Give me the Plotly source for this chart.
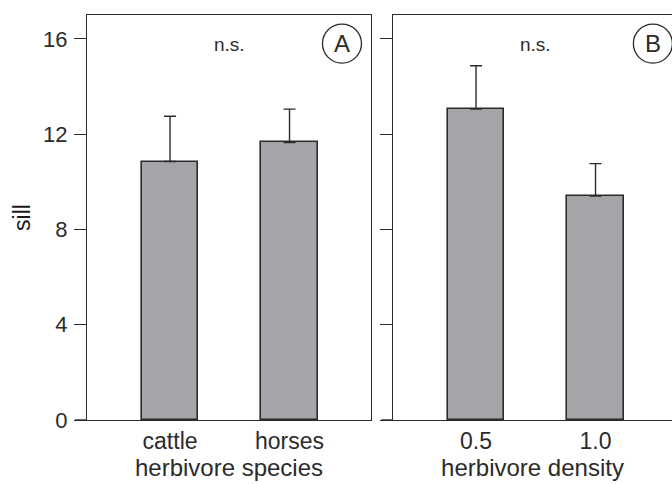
import plotly.graph_objects as go

# ---- data ----
species = ["cattle", "horses"]
species_sill = [10.85, 11.65]
species_se = [1.9, 1.4]

density = ["0.5", "1.0"]
density_sill = [13.05, 9.4]
density_se = [1.82, 1.36]

y_ticks = [0, 4, 8, 12, 16]

FONT = "Liberation Sans, Arial, Helvetica, sans-serif"
INK = "#2b2b2b"
BAR = "#a5a5a9"

fig = go.Figure()

def bar_trace(cats, vals, errs, xa, ya):
    return go.Bar(
        x=list(range(len(cats))), y=vals, width=0.47,
        marker=dict(color=BAR, line=dict(color=INK, width=1.6)),
        error_y=dict(type="data", array=errs, arrayminus=[0] * len(errs),
                     symmetric=False, color=INK, thickness=1.4, width=6),
        xaxis=xa, yaxis=ya, showlegend=False, hoverinfo="skip",
    )

fig.add_trace(bar_trace(species, species_sill, species_se, "x", "y"))
fig.add_trace(bar_trace(density, density_sill, density_se, "x2", "y2"))

axis_common = dict(showline=True, linecolor=INK, linewidth=1.4, showgrid=False,
                   zeroline=False, tickfont=dict(family=FONT, size=23, color=INK))

fig.update_layout(
    width=672, height=484,
    margin=dict(l=0, r=0, t=15, b=64),
    paper_bgcolor="white", plot_bgcolor="white",
    font=dict(family=FONT, color=INK),
    bargap=0,
    xaxis=dict(axis_common, domain=[87 / 672, 371 / 672], range=[-0.695, 1.682],
               mirror=True, ticks="", tickvals=[0, 1], ticktext=species,
               title=dict(text="herbivore species", font=dict(size=24, family=FONT, color=INK), standoff=1),
               automargin=False, anchor="y"),
    yaxis=dict(axis_common, domain=[0, 1], range=[0, 17], mirror=True,
               ticks="outside", ticklen=12, tickwidth=1.4, tickcolor=INK,
               tickvals=y_ticks, ticklabelstandoff=2,
               tickfont=dict(family=FONT, size=22, color=INK),
               title=dict(text="sill", font=dict(size=23, family=FONT, color="#1a1a1a"), standoff=5),
               automargin=False, anchor="x"),
    xaxis2=dict(axis_common, domain=[393 / 672, 1.0], range=[-0.695, 1.640],
                mirror=True, ticks="", tickvals=[0, 1], ticktext=density,
                title=dict(text="herbivore density", font=dict(size=24, family=FONT, color=INK), standoff=1),
                automargin=False, anchor="y2"),
    yaxis2=dict(axis_common, domain=[0, 1], range=[0, 17], mirror=False,
                ticks="outside", ticklen=12, tickwidth=1.4, tickcolor=INK,
                tickvals=y_ticks, showticklabels=False, automargin=False, anchor="x2"),
)

# extend the baselines left under the tick marks
for xr, yr in (("x domain", "y"), ("x2 domain", "y2")):
    fig.add_shape(type="line", xref=xr, yref=yr, x0=-12 / 284, x1=0, y0=0, y1=0,
                  line=dict(color=INK, width=1.4))

# panel annotations
for xr, yr, letter, lx in (("x", "y", "A", 1.439), ("x2", "y2", "B", 1.48)):
    fig.add_annotation(x=0.5, y=15.78, xref=xr, yref=yr, text="n.s.", showarrow=False,
                       font=dict(family=FONT, size=19, color=INK))
    fig.add_shape(type="circle", xref=xr, yref=yr, xsizemode="pixel", ysizemode="pixel",
                  xanchor=lx, yanchor=15.8, x0=-19.5, x1=19.5, y0=-19.5, y1=19.5,
                  line=dict(color=INK, width=1.3))
    fig.add_annotation(x=lx, y=15.8, xref=xr, yref=yr, text=letter, showarrow=False,
                       font=dict(family=FONT, size=24, color=INK))

fig.write_html("out.html", config={"displayModeBar": False},
               post_script="document.body.style.margin='0';document.body.style.overflow='hidden';")
